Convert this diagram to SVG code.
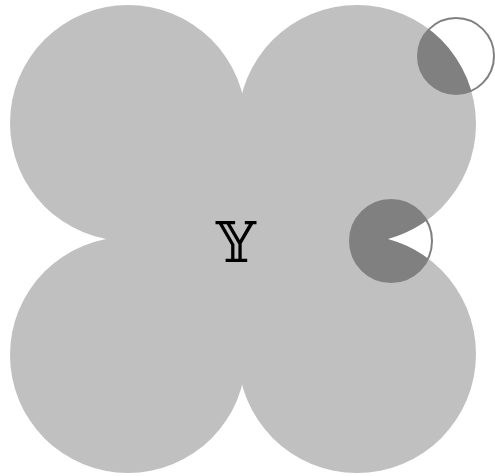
<svg xmlns="http://www.w3.org/2000/svg" width="495" height="476" viewBox="0 0 495 476">
<defs>
<style>
.big{fill:#c0c0c0}
.dark{fill:#808080}
.ring{fill:none;stroke:#808080;stroke-width:2}
.lbl{font-family:"DejaVu Serif","Liberation Serif",serif;font-size:56px;fill:#000}
</style>
<clipPath id="u">
<circle cx="128" cy="123" r="118"/>
<circle cx="357" cy="124" r="119"/>
<circle cx="128" cy="355" r="118"/>
<circle cx="357" cy="354" r="119"/>
<rect x="128" y="123" width="229" height="232"/>
</clipPath>
</defs>
<rect width="495" height="476" fill="#fff"/>
<g id="shapes">
<circle class="big" cx="128" cy="123" r="118"/>
<circle class="big" cx="357" cy="124" r="119"/>
<circle class="big" cx="128" cy="355" r="118"/>
<circle class="big" cx="357" cy="354" r="119"/>
<rect class="big" x="128" y="123" width="229" height="232"/>
</g>
<g id="small1">
<circle class="dark" cx="456" cy="56" r="38" clip-path="url(#u)"/>
<circle class="ring" cx="456" cy="56" r="38"/>
</g>
<g id="small2">
<circle class="dark" cx="391" cy="241" r="41" clip-path="url(#u)"/>
<circle class="ring" cx="391" cy="241" r="41"/>
</g>
<g id="label">
<text class="lbl" x="236" y="262" text-anchor="middle">𝕐</text>
</g>
</svg>
